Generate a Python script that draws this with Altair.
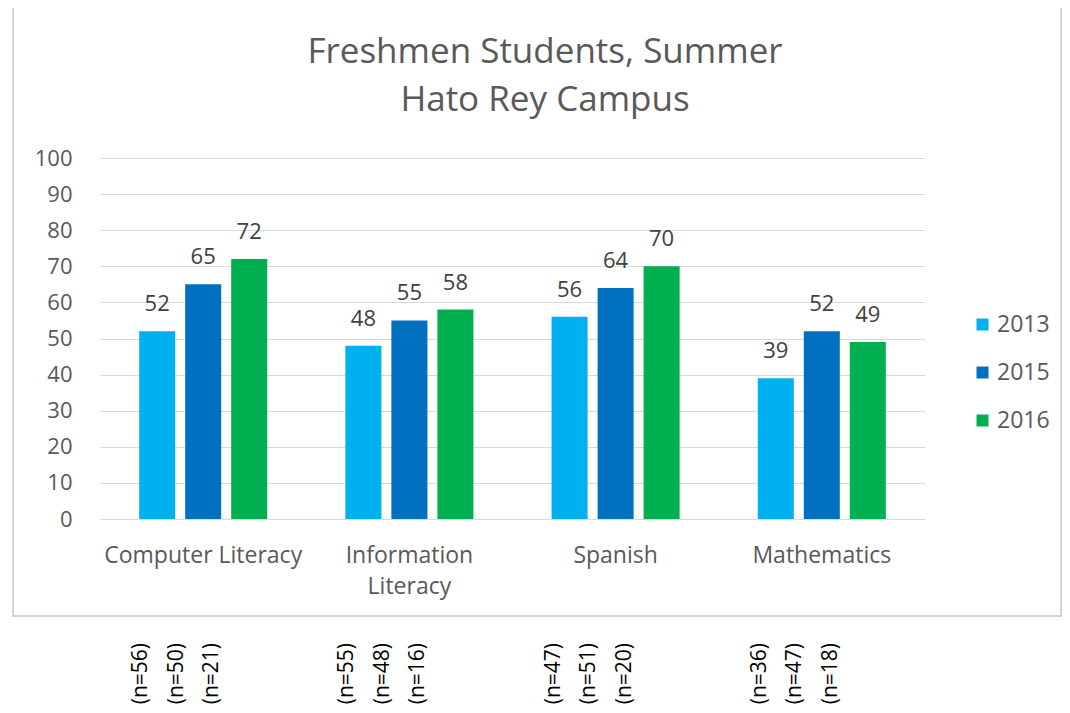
import altair as alt
import pandas as pd

categories = ["Computer Literacy", "Information Literacy", "Spanish", "Mathematics"]
years = ["2013", "2015", "2016"]
scores_2013 = [52, 48, 56, 39]
scores_2015 = [65, 55, 64, 52]
scores_2016 = [72, 58, 70, 49]
n_2013 = [56, 55, 47, 36]
n_2015 = [50, 48, 51, 47]
n_2016 = [21, 16, 20, 18]
colors = ["#00B0F0", "#0070C0", "#00B050"]
title_lines = ["Freshmen Students, Summer", "Hato Rey Campus"]
y_ticks = list(range(0, 101, 10))

rows = []
for yr, sc, nn in zip(years, [scores_2013, scores_2015, scores_2016], [n_2013, n_2015, n_2016]):
    for c, s, n in zip(categories, sc, nn):
        rows.append({"category": c, "year": yr, "score": s, "nlabel": f"(n={n})"})
df = pd.DataFrame(rows)

FONT = "Open Sans"
GRAY = "#595959"

x_enc = alt.X(
    "category:N",
    sort=categories,
    scale=alt.Scale(paddingInner=0.379, paddingOuter=0.19),
    axis=alt.Axis(
        title=None, labelAngle=0, domain=False, ticks=False, tickSize=0,
        labelPadding=25, labelFontSize=23, labelFont=FONT, labelColor=GRAY,
        labelLineHeight=31, labelLimit=300,
        labelExpr="datum.label == 'Information Literacy' ? ['Information', 'Literacy'] : datum.label",
    ),
)
x_start = alt.X("category:N", sort=categories, bandPosition=0)
y_enc = alt.Y(
    "score:Q",
    scale=alt.Scale(domain=[0, 100]),
    axis=alt.Axis(
        title=None, values=y_ticks, domain=False, ticks=False, tickSize=0,
        labelPadding=28, labelFontSize=22, labelFont=FONT, labelColor=GRAY,
        gridColor="#D9D9D9", gridWidth=1,
    ),
)
xoff = alt.XOffset("year:N", sort=years, scale=alt.Scale(paddingInner=0.217, paddingOuter=0))

base = alt.Chart(df)

box = alt.Chart(pd.DataFrame({"k": [0]})).mark_rect(
    filled=False, stroke="#D4D4D4", strokeWidth=2
).encode(
    x=alt.value(-87), x2=alt.value(961), y=alt.value(-154), y2=alt.value(458)
)

title = alt.Chart(pd.DataFrame({"k": [0]})).mark_text(
    text=title_lines, lineHeight=48, fontSize=35, font=FONT, color=GRAY,
    align="center", baseline="alphabetic"
).encode(x=alt.value(445), y=alt.value(-95))

bars = base.mark_bar().encode(
    x=x_enc,
    xOffset=xoff,
    y=y_enc,
    color=alt.Color(
        "year:N", sort=years,
        scale=alt.Scale(domain=years, range=colors),
        legend=alt.Legend(
            title=None, orient="none", legendX=871, legendY=155,
            symbolType="square", symbolSize=144, symbolStrokeWidth=0,
            labelFontSize=23, labelFont=FONT, labelColor=GRAY,
            rowPadding=24, labelOffset=3, padding=0,
        ),
    ),
)

labels = base.mark_text(
    dy=-20, baseline="alphabetic", fontSize=22, font=FONT, color="#404040"
).encode(
    x=x_start,
    xOffset=alt.XOffset("year:N", sort=years, scale=alt.Scale(type="point", range=[18, 110], padding=0)),
    y=y_enc,
    text=alt.Text("score:Q"),
)

nlabels = base.mark_text(
    angle=270, align="right", baseline="middle", fontSize=21, font=FONT, color="#000000"
).encode(
    x=x_start,
    xOffset=alt.XOffset("year:N", sort=years, scale=alt.Scale(type="point", range=[2, 73], padding=0)),
    y=alt.value(485),
    text="nlabel:N",
)

chart = alt.layer(box, title, bars, labels, nlabels).resolve_scale(
    xOffset="independent"
).properties(
    width=825, height=361,
    autosize=alt.AutoSizeParams(type="none"),
    padding={"left": 92, "top": 150, "right": 137, "bottom": 186},
).configure_view(stroke=None)

chart.save("out.html", embed_options={"renderer": "svg", "actions": False})
